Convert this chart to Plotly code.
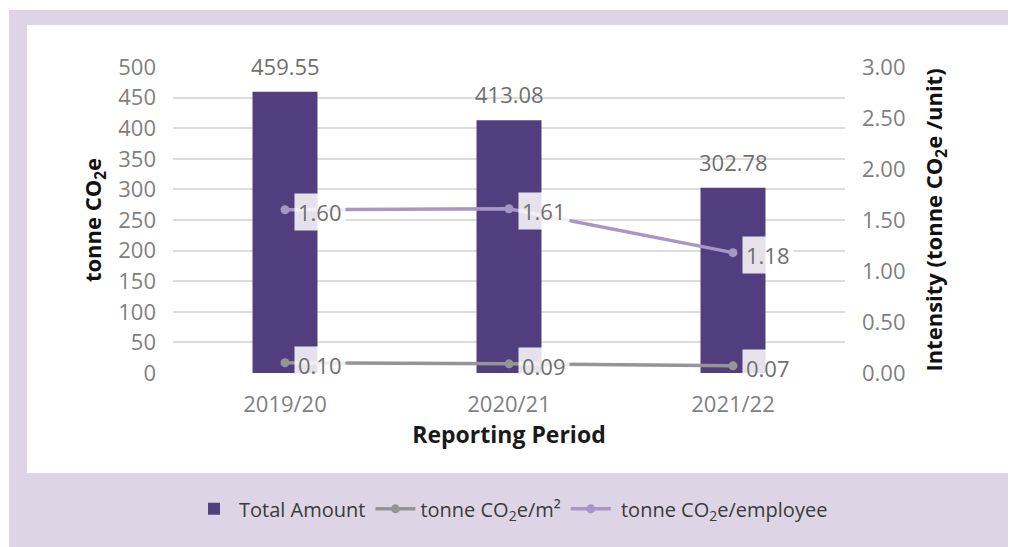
import plotly.graph_objects as go

periods = ["2019/20", "2020/21", "2021/22"]
total_amount = [459.55, 413.08, 302.78]
per_m2 = [0.10, 0.09, 0.07]
per_employee = [1.60, 1.61, 1.18]

BAR = "#513e7f"
GRAY_LINE = "#959595"
LAV_LINE = "#a796c6"
TICK = "#7f7f7f"
LABEL = "#6f6f6f"
FONT = "Open Sans"

fig = go.Figure()
fig.add_trace(go.Bar(x=periods, y=total_amount, name="Total Amount",
                     marker=dict(color=BAR, line=dict(width=0)), width=0.29))
fig.add_trace(go.Scatter(x=periods, y=per_m2, name="tonne CO<sub>2</sub>e/m²", yaxis="y2",
                         mode="lines+markers", line=dict(color=GRAY_LINE, width=3.5),
                         marker=dict(size=9, color=GRAY_LINE)))
fig.add_trace(go.Scatter(x=periods, y=per_employee, name=" tonne CO<sub>2</sub>e/employee", yaxis="y2",
                         mode="lines+markers", line=dict(color=LAV_LINE, width=3.5),
                         marker=dict(size=9, color=LAV_LINE)))

annotations = []
for p, v in zip(periods, total_amount):
    annotations.append(dict(x=p, y=v, xref="x", yref="y", text=f"{v:.2f}", showarrow=False,
                            yanchor="bottom", xanchor="center", yshift=9,
                            font=dict(family=FONT, size=22, color=LABEL)))
for series in (per_m2, per_employee):
    for p, v in zip(periods, series):
        annotations.append(dict(x=p, y=v, xref="x", yref="y2", text=f"{v:.2f}", showarrow=False,
                                yanchor="middle", xanchor="left", xshift=9, yshift=-2,
                                bgcolor="rgba(255,255,255,0.85)", borderpad=3,
                                font=dict(family=FONT, size=22, color=LABEL)))

shapes = [
    dict(type="rect", xref="paper", yref="paper", x0=-0.24405, x1=1.27, y0=-0.60, y1=1.18627,
         fillcolor="#ddd5e6", line=dict(width=0), layer="below"),
    dict(type="rect", xref="paper", yref="paper", x0=-0.21726, x1=1.24851, y0=-0.32680, y1=1.13725,
         fillcolor="#ffffff", line=dict(width=0), layer="below"),
]

fig.update_layout(
    width=1008, height=539,
    margin=dict(l=165, r=171, t=59, b=174),
    paper_bgcolor="white", plot_bgcolor="rgba(0,0,0,0)",
    font=dict(family=FONT, size=22, color=TICK),
    bargap=0.71,
    showlegend=True,
    legend=dict(orientation="h", x=0.503, xanchor="center", y=-0.444, yanchor="middle",
                bgcolor="rgba(0,0,0,0)", font=dict(family=FONT, size=20, color="#3a3a3a"),
                itemwidth=40, tracegroupgap=0),
    xaxis=dict(range=[-0.5, 2.5], showgrid=False, showline=False, zeroline=False,
               tickfont=dict(family=FONT, size=22, color=TICK), ticklabelstandoff=16,
               title=dict(text="<b>Reporting Period</b>", standoff=6,
                          font=dict(family=FONT, size=23, color="#1a1a1a"))),
    yaxis=dict(range=[0, 500], dtick=50, showgrid=True, gridcolor="#dcdcdc", gridwidth=1.5,
               zeroline=False, showline=False, tickfont=dict(family=FONT, size=22, color=TICK),
               ticklabelstandoff=16,
               title=dict(text="<b>tonne CO<sub>2</sub>e</b>", standoff=10,
                          font=dict(family=FONT, size=22, color="#111111"))),
    yaxis2=dict(range=[0, 3], dtick=0.5, tickformat=".2f", overlaying="y", side="right",
                showgrid=False, zeroline=False, showline=False,
                tickfont=dict(family=FONT, size=22, color=TICK), ticklabelstandoff=16,
                title=dict(text="<b>Intensity (tonne CO<sub>2</sub>e /unit)</b>", standoff=22,
                           font=dict(family=FONT, size=22, color="#111111"))),
    annotations=annotations,
    shapes=shapes,
)

fig.write_html("out.html")
